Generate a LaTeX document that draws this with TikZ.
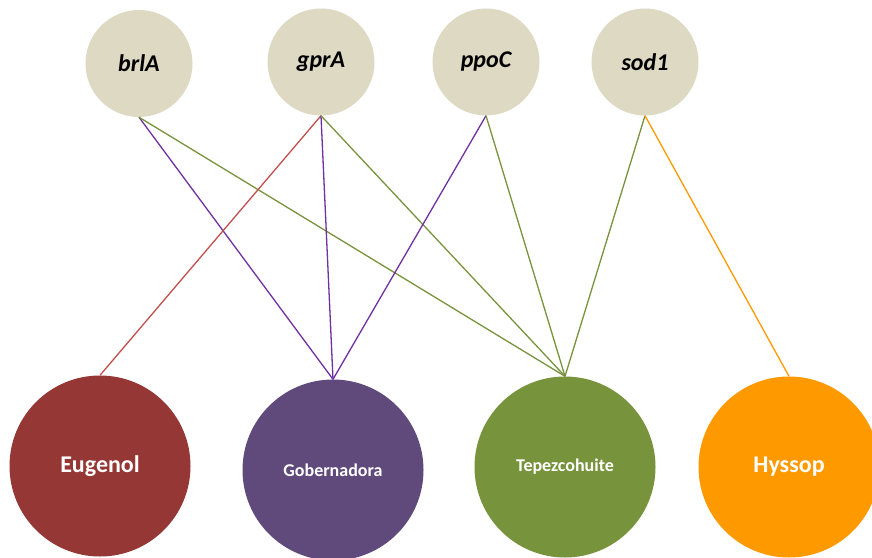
\documentclass[tikz,border=0pt]{standalone}
\usepackage{fontspec}
\setmainfont{Carlito}
\definecolor{gene}{HTML}{DDD9C3}
\definecolor{eug}{HTML}{953735}
\definecolor{gob}{HTML}{604A7B}
\definecolor{tep}{HTML}{77933C}
\definecolor{hys}{HTML}{FF9900}
\definecolor{redline}{HTML}{C0504D}
\definecolor{purpline}{HTML}{7030A0}
\begin{document}
\begin{tikzpicture}[x=1pt,y=-1pt,
  genenode/.style={circle,fill=gene,inner sep=0pt,minimum size=107pt,font=\fontsize{24}{26}\selectfont\bfseries\itshape,text=black},
  remedy/.style={circle,inner sep=0pt,minimum size=181pt,text=white,font=\fontsize{24}{26}\selectfont\bfseries},
  link/.style={line width=1.3pt}]
\useasboundingbox (0,0) rectangle (872,557);
\node[genenode] (brlA) at (139,63.5) {brlA};
\node[genenode] (gprA) at (321,62) {gprA};
\node[genenode] (ppoC) at (486,62) {ppoC};
\node[genenode] (sod1) at (645,62) {sod1};
\node[remedy,fill=eug] (Eug) at (100,466) {Eugenol};
\node[remedy,fill=gob,font=\fontsize{18}{20}\selectfont\bfseries] (Gob) at (333,470) {Gobernadora};
\node[remedy,fill=tep,font=\fontsize{18}{20}\selectfont\bfseries] (Tep) at (565,467) {Tepezcohuite};
\node[remedy,fill=hys] (Hys) at (789,467) {Hyssop};
\draw[link,purpline] (brlA.south) -- (Gob.north);
\draw[link,tep] (brlA.south) -- (Tep.north);
\draw[link,redline] (gprA.south) -- (Eug.north);
\draw[link,purpline] (gprA.south) -- (Gob.north);
\draw[link,tep] (gprA.south) -- (Tep.north);
\draw[link,purpline] (ppoC.south) -- (Gob.north);
\draw[link,tep] (ppoC.south) -- (Tep.north);
\draw[link,tep] (sod1.south) -- (Tep.north);
\draw[link,hys] (sod1.south) -- (Hys.north);
\end{tikzpicture}
\end{document}
